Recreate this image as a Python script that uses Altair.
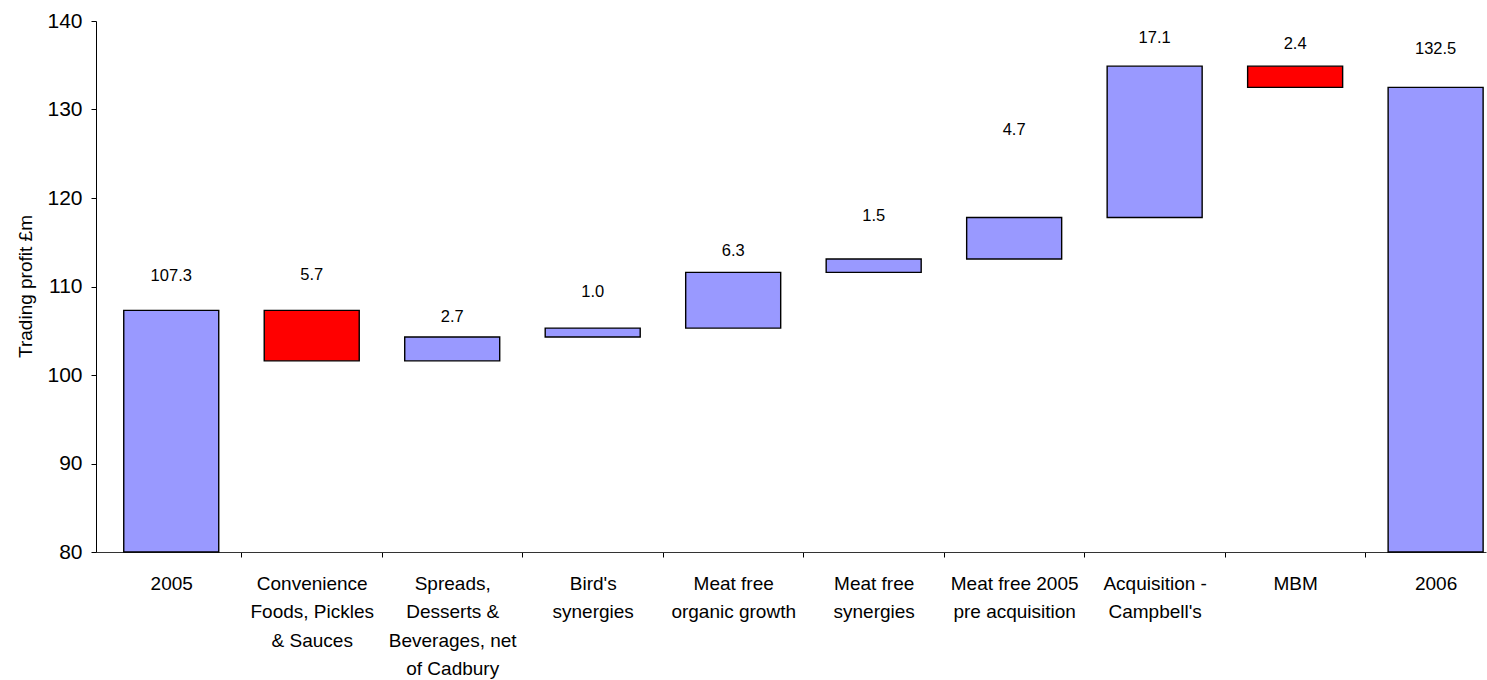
import json
import altair as alt
import pandas as pd

# ---- data ----
categories = [
    ["2005"],
    ["Convenience", "Foods, Pickles", "& Sauces"],
    ["Spreads,", "Desserts &", "Beverages, net", "of Cadbury"],
    ["Bird's", "synergies"],
    ["Meat free", "organic growth"],
    ["Meat free", "synergies"],
    ["Meat free 2005", "pre acquisition"],
    ["Acquisition -", "Campbell's"],
    ["MBM"],
    ["2006"],
]
bar_low = [80, 101.6, 101.6, 104.3, 105.3, 111.6, 113.1, 117.8, 132.5, 80]
bar_high = [107.3, 107.3, 104.3, 105.3, 111.6, 113.1, 117.8, 134.9, 134.9, 132.5]
shown_values = [107.3, 5.7, 2.7, 1.0, 6.3, 1.5, 4.7, 17.1, 2.4, 132.5]
label_y = [111.2, 111.3, 106.55, 109.4, 114.0, 118.0, 127.7, 138.1, 137.4, 136.8]
kind = ["total", "down", "up", "up", "up", "up", "up", "up", "down", "total"]

df = pd.DataFrame({
    "idx": list(range(len(categories))),
    "low": bar_low,
    "high": bar_high,
    "value": shown_values,
    "label_y": label_y,
    "kind": kind,
})

FONT = "Liberation Sans"

x_scale = alt.Scale(domain=[-0.5, 9.323], nice=False, zero=False)
y_scale = alt.Scale(domain=[80, 140], nice=False, zero=False)

label_expr = (
    "datum.value % 1 == 0 ? " + json.dumps(categories) + "[datum.value] : ''"
)

x_axis = alt.Axis(
    values=[i * 0.5 for i in range(0, 20)],
    labelExpr=label_expr,
    labelFont=FONT,
    labelFontSize=19,
    labelColor="#000000",
    labelLineHeight=28.5,
    labelBaseline="top",
    labelAlign="center",
    labelPadding=17,
    labelFlush=False,
    labelOverlap=False,
    labelLimit=400,
    tickSize=5,
    tickColor={"condition": {"test": "datum.value % 1 == 0", "value": "transparent"},
               "value": "#000000"},
    domainColor="#333333",
    grid=False,
    title=None,
)

y_axis = alt.Axis(
    values=[80, 90, 100, 110, 120, 130, 140],
    labelFont=FONT,
    labelFontSize=21,
    labelColor="#000000",
    labelPadding=9,
    tickSize=5,
    tickColor="#000000",
    domainColor="#000000",
    grid=False,
    title="Trading profit £m",
    titleFont=FONT,
    titleFontSize=19,
    titleFontWeight="normal",
    titleColor="#000000",
    titleX=-71,
    titleY=265,
    titleAngle=270,
    titleAlign="center",
    titleBaseline="middle",
)

bars = alt.Chart(df).mark_bar(width=95, stroke="#000000", strokeWidth=1.4).encode(
    x=alt.X("idx:Q", scale=x_scale, axis=x_axis),
    y=alt.Y("low:Q", scale=y_scale, axis=y_axis),
    y2="high:Q",
    color=alt.Color("kind:N",
                    scale=alt.Scale(domain=["total", "up", "down"],
                                    range=["#9999FF", "#9999FF", "#FF0000"]),
                    legend=None),
)

labels = alt.Chart(df).mark_text(font=FONT, fontSize=16.5, color="#000000",
                                 baseline="middle", align="center").encode(
    x=alt.X("idx:Q", scale=x_scale, axis=x_axis),
    y=alt.Y("label_y:Q", scale=y_scale, axis=y_axis),
    text=alt.Text("value:Q", format=".1f"),
)

chart = alt.layer(bars, labels).properties(
    width=1390,
    height=531,
    autosize=alt.AutoSizeParams(type="none"),
    padding={"left": 96, "top": 21, "right": 1, "bottom": 128},
    background="#FFFFFF",
).configure_view(stroke=None)

chart.save("out.html", embed_options={"renderer": "svg", "actions": False})
